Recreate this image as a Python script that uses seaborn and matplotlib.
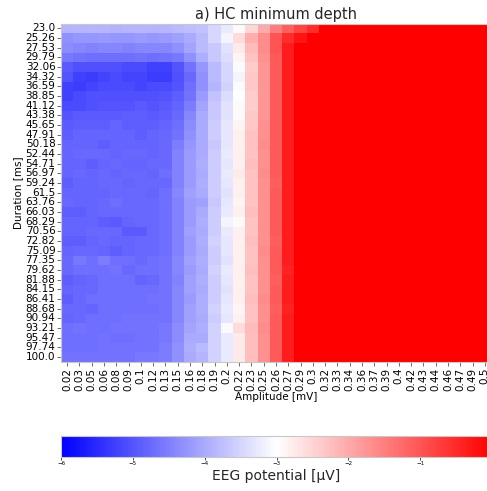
import numpy as np
import pandas as pd
import matplotlib
matplotlib.use("Agg")
import matplotlib.pyplot as plt
import seaborn as sns

durations = ["23.0", "25.26", "27.53", "29.79", "32.06", "34.32", "36.59", "38.85", "41.12",
             "43.38", "45.65", "47.91", "50.18", "52.44", "54.71", "56.97", "59.24", "61.5",
             "63.76", "66.03", "68.29", "70.56", "72.82", "75.09", "77.35", "79.62", "81.88",
             "84.15", "86.41", "88.68", "90.94", "93.21", "95.47", "97.74", "100.0"]
amplitudes = ["0.02", "0.03", "0.05", "0.06", "0.08", "0.09", "0.1", "0.12", "0.13", "0.15",
              "0.16", "0.18", "0.19", "0.2", "0.22", "0.23", "0.25", "0.26", "0.27", "0.29",
              "0.3", "0.32", "0.33", "0.34", "0.36", "0.37", "0.39", "0.4", "0.42", "0.43",
              "0.44", "0.46", "0.47", "0.49", "0.5"]

# EEG potential [uV]; rows = durations, columns = amplitudes (values >= 0 are saturated red)
eeg = [
 [-3.88,-3.88,-3.86,-3.88,-3.91,-3.88,-3.86,-3.88,-3.86,-3.82,-3.76,-3.71,-3.47,-3.24,-2.94,-2.53,-2.00,-1.47,-1.12,-0.82,-0.53, 0.1, 0.2, 0.3, 0.4, 0.5, 0.6, 0.7, 0.8, 0.9, 1.0, 1.1, 1.2, 1.3, 1.4],
 [-4.29,-4.24,-4.24,-4.21,-4.24,-4.24,-4.18,-4.24,-4.18,-4.12,-4.00,-3.82,-3.47,-3.12,-2.59,-2.06,-1.65,-1.00,-0.53,-0.24, 0.1, 0.2, 0.3, 0.4, 0.5, 0.6, 0.7, 0.8, 0.9, 1.0, 1.1, 1.2, 1.3, 1.4, 1.5],
 [-4.35,-4.41,-4.47,-4.41,-4.41,-4.47,-4.41,-4.41,-4.41,-4.29,-4.06,-3.82,-3.65,-3.35,-2.76,-2.18,-1.65,-1.00,-0.35, 0.1, 0.2, 0.3, 0.4, 0.5, 0.6, 0.7, 0.8, 0.9, 1.0, 1.1, 1.2, 1.3, 1.4, 1.5, 1.6],
 [-4.59,-4.65,-4.71,-4.71,-4.71,-4.71,-4.65,-4.71,-4.65,-4.59,-4.29,-3.94,-3.65,-3.41,-2.88,-2.29,-1.71,-1.06,-0.35, 0.1, 0.2, 0.3, 0.4, 0.5, 0.6, 0.7, 0.8, 0.9, 1.0, 1.1, 1.2, 1.3, 1.4, 1.5, 1.6],
 [-4.94,-5.06,-5.06,-5.06,-5.06,-5.12,-5.12,-5.24,-5.24,-5.00,-4.65,-4.24,-3.82,-3.47,-3.06,-2.41,-1.76,-1.06,-0.35, 0.1, 0.2, 0.3, 0.4, 0.5, 0.6, 0.7, 0.8, 0.9, 1.0, 1.1, 1.2, 1.3, 1.4, 1.5, 1.6],
 [-5.00,-5.24,-5.29,-5.18,-5.12,-5.18,-5.18,-5.29,-5.29,-5.06,-4.76,-4.29,-3.82,-3.47,-3.12,-2.35,-1.76,-1.06,-0.35, 0.1, 0.2, 0.3, 0.4, 0.5, 0.6, 0.7, 0.8, 0.9, 1.0, 1.1, 1.2, 1.3, 1.4, 1.5, 1.6],
 [-5.24,-5.29,-5.18,-5.12,-5.12,-5.12,-5.18,-5.12,-5.12,-5.00,-4.71,-4.29,-3.88,-3.53,-3.06,-2.35,-1.76,-1.06,-0.35, 0.1, 0.2, 0.3, 0.4, 0.5, 0.6, 0.7, 0.8, 0.9, 1.0, 1.1, 1.2, 1.3, 1.4, 1.5, 1.6],
 [-5.24,-5.12,-5.06,-5.06,-5.06,-5.06,-5.06,-5.06,-5.00,-4.88,-4.65,-4.18,-3.71,-3.41,-3.00,-2.41,-1.76,-1.06,-0.35, 0.1, 0.2, 0.3, 0.4, 0.5, 0.6, 0.7, 0.8, 0.9, 1.0, 1.1, 1.2, 1.3, 1.4, 1.5, 1.6],
 [-5.12,-5.12,-5.06,-5.00,-5.00,-5.00,-4.94,-5.00,-4.94,-4.82,-4.53,-4.06,-3.65,-3.35,-2.94,-2.41,-1.76,-1.06,-0.35, 0.1, 0.2, 0.3, 0.4, 0.5, 0.6, 0.7, 0.8, 0.9, 1.0, 1.1, 1.2, 1.3, 1.4, 1.5, 1.6],
 [-5.00,-4.94,-4.94,-4.94,-4.94,-4.88,-4.88,-4.94,-4.88,-4.76,-4.41,-4.00,-3.65,-3.35,-2.94,-2.35,-1.76,-1.06,-0.35, 0.1, 0.2, 0.3, 0.4, 0.5, 0.6, 0.7, 0.8, 0.9, 1.0, 1.1, 1.2, 1.3, 1.4, 1.5, 1.6],
 [-4.94,-4.88,-4.88,-4.88,-4.82,-4.88,-4.88,-4.88,-4.82,-4.71,-4.35,-4.00,-3.59,-3.29,-2.88,-2.35,-1.71,-1.06,-0.35, 0.1, 0.2, 0.3, 0.4, 0.5, 0.6, 0.7, 0.8, 0.9, 1.0, 1.1, 1.2, 1.3, 1.4, 1.5, 1.6],
 [-4.88,-4.82,-4.82,-4.82,-4.82,-4.82,-4.88,-4.82,-4.76,-4.65,-4.29,-4.00,-3.59,-3.29,-2.82,-2.29,-1.71,-1.06,-0.35, 0.1, 0.2, 0.3, 0.4, 0.5, 0.6, 0.7, 0.8, 0.9, 1.0, 1.1, 1.2, 1.3, 1.4, 1.5, 1.6],
 [-4.82,-4.82,-4.82,-4.88,-4.82,-4.82,-4.82,-4.82,-4.76,-4.53,-4.24,-4.00,-3.65,-3.29,-2.82,-2.29,-1.65,-1.06,-0.35, 0.1, 0.2, 0.3, 0.4, 0.5, 0.6, 0.7, 0.8, 0.9, 1.0, 1.1, 1.2, 1.3, 1.4, 1.5, 1.6],
 [-4.82,-4.76,-4.76,-4.76,-4.82,-4.76,-4.76,-4.82,-4.76,-4.47,-4.18,-4.00,-3.59,-3.24,-2.82,-2.29,-1.71,-1.06,-0.35, 0.1, 0.2, 0.3, 0.4, 0.5, 0.6, 0.7, 0.8, 0.9, 1.0, 1.1, 1.2, 1.3, 1.4, 1.5, 1.6],
 [-4.82,-4.82,-4.88,-4.82,-4.76,-4.82,-4.82,-4.76,-4.76,-4.47,-4.18,-3.94,-3.59,-3.29,-2.82,-2.24,-1.71,-1.06,-0.35, 0.1, 0.2, 0.3, 0.4, 0.5, 0.6, 0.7, 0.8, 0.9, 1.0, 1.1, 1.2, 1.3, 1.4, 1.5, 1.6],
 [-4.82,-4.76,-4.82,-4.76,-4.82,-4.76,-4.76,-4.82,-4.71,-4.47,-4.18,-4.00,-3.59,-3.24,-2.76,-2.29,-1.65,-1.06,-0.35, 0.1, 0.2, 0.3, 0.4, 0.5, 0.6, 0.7, 0.8, 0.9, 1.0, 1.1, 1.2, 1.3, 1.4, 1.5, 1.6],
 [-4.88,-4.82,-4.82,-4.76,-4.76,-4.82,-4.76,-4.76,-4.76,-4.47,-4.18,-3.94,-3.59,-3.29,-2.82,-2.29,-1.71,-1.12,-0.35, 0.1, 0.2, 0.3, 0.4, 0.5, 0.6, 0.7, 0.8, 0.9, 1.0, 1.1, 1.2, 1.3, 1.4, 1.5, 1.6],
 [-4.82,-4.82,-4.82,-4.82,-4.76,-4.76,-4.76,-4.82,-4.71,-4.41,-4.12,-4.00,-3.59,-3.35,-2.82,-2.29,-1.71,-1.06,-0.35, 0.1, 0.2, 0.3, 0.4, 0.5, 0.6, 0.7, 0.8, 0.9, 1.0, 1.1, 1.2, 1.3, 1.4, 1.5, 1.6],
 [-4.76,-4.82,-4.82,-4.76,-4.71,-4.76,-4.76,-4.76,-4.71,-4.47,-4.18,-4.12,-3.65,-3.29,-2.88,-2.29,-1.71,-1.06,-0.35, 0.1, 0.2, 0.3, 0.4, 0.5, 0.6, 0.7, 0.8, 0.9, 1.0, 1.1, 1.2, 1.3, 1.4, 1.5, 1.6],
 [-4.88,-4.88,-4.82,-4.76,-4.76,-4.76,-4.76,-4.76,-4.71,-4.47,-4.18,-4.00,-3.59,-3.24,-2.82,-2.24,-1.71,-1.06,-0.35, 0.1, 0.2, 0.3, 0.4, 0.5, 0.6, 0.7, 0.8, 0.9, 1.0, 1.1, 1.2, 1.3, 1.4, 1.5, 1.6],
 [-4.82,-4.82,-4.82,-4.88,-4.94,-4.82,-4.76,-4.76,-4.71,-4.47,-4.18,-3.94,-3.59,-3.12,-2.94,-2.29,-1.71,-1.06,-0.35, 0.1, 0.2, 0.3, 0.4, 0.5, 0.6, 0.7, 0.8, 0.9, 1.0, 1.1, 1.2, 1.3, 1.4, 1.5, 1.6],
 [-4.82,-4.82,-4.76,-4.76,-4.76,-4.94,-4.94,-4.76,-4.71,-4.47,-4.12,-4.00,-3.59,-3.24,-2.82,-2.29,-1.71,-1.06,-0.35, 0.1, 0.2, 0.3, 0.4, 0.5, 0.6, 0.7, 0.8, 0.9, 1.0, 1.1, 1.2, 1.3, 1.4, 1.5, 1.6],
 [-4.88,-4.88,-4.82,-4.76,-4.82,-4.82,-4.76,-4.76,-4.71,-4.47,-4.18,-3.94,-3.53,-3.29,-2.82,-2.24,-1.71,-1.12,-0.35, 0.1, 0.2, 0.3, 0.4, 0.5, 0.6, 0.7, 0.8, 0.9, 1.0, 1.1, 1.2, 1.3, 1.4, 1.5, 1.6],
 [-4.82,-4.76,-4.76,-4.82,-4.88,-4.82,-4.76,-4.76,-4.71,-4.47,-4.18,-4.00,-3.59,-3.29,-2.82,-2.29,-1.65,-1.06,-0.35, 0.1, 0.2, 0.3, 0.4, 0.5, 0.6, 0.7, 0.8, 0.9, 1.0, 1.1, 1.2, 1.3, 1.4, 1.5, 1.6],
 [-4.76,-4.59,-4.71,-4.53,-4.71,-4.71,-4.76,-4.71,-4.65,-4.41,-4.12,-3.94,-3.59,-3.35,-2.82,-2.29,-1.71,-1.06,-0.35, 0.1, 0.2, 0.3, 0.4, 0.5, 0.6, 0.7, 0.8, 0.9, 1.0, 1.1, 1.2, 1.3, 1.4, 1.5, 1.6],
 [-4.76,-4.71,-4.71,-4.71,-4.65,-4.76,-4.71,-4.71,-4.65,-4.41,-4.18,-4.00,-3.53,-3.24,-2.82,-2.24,-1.71,-1.06,-0.41, 0.1, 0.2, 0.3, 0.4, 0.5, 0.6, 0.7, 0.8, 0.9, 1.0, 1.1, 1.2, 1.3, 1.4, 1.5, 1.6],
 [-4.88,-4.82,-4.76,-4.71,-4.71,-4.71,-4.82,-4.76,-4.65,-4.47,-4.12,-3.94,-3.59,-3.29,-2.82,-2.29,-1.71,-1.12,-0.35, 0.1, 0.2, 0.3, 0.4, 0.5, 0.6, 0.7, 0.8, 0.9, 1.0, 1.1, 1.2, 1.3, 1.4, 1.5, 1.6],
 [-4.82,-4.76,-4.76,-4.71,-4.71,-4.71,-4.71,-4.71,-4.65,-4.41,-4.12,-4.00,-3.59,-3.35,-2.82,-2.29,-1.71,-1.06,-0.35, 0.1, 0.2, 0.3, 0.4, 0.5, 0.6, 0.7, 0.8, 0.9, 1.0, 1.1, 1.2, 1.3, 1.4, 1.5, 1.6],
 [-4.88,-4.76,-4.71,-4.71,-4.71,-4.71,-4.71,-4.65,-4.65,-4.41,-4.18,-3.94,-3.59,-3.29,-2.82,-2.24,-1.65,-1.06,-0.35, 0.1, 0.2, 0.3, 0.4, 0.5, 0.6, 0.7, 0.8, 0.9, 1.0, 1.1, 1.2, 1.3, 1.4, 1.5, 1.6],
 [-4.76,-4.76,-4.82,-4.71,-4.71,-4.71,-4.71,-4.71,-4.65,-4.41,-4.12,-3.94,-3.53,-3.24,-2.88,-2.29,-1.71,-1.12,-0.41, 0.1, 0.2, 0.3, 0.4, 0.5, 0.6, 0.7, 0.8, 0.9, 1.0, 1.1, 1.2, 1.3, 1.4, 1.5, 1.6],
 [-4.82,-4.76,-4.71,-4.71,-4.71,-4.65,-4.65,-4.65,-4.65,-4.41,-4.12,-4.00,-3.59,-3.29,-2.82,-2.29,-1.71,-1.06,-0.35, 0.1, 0.2, 0.3, 0.4, 0.5, 0.6, 0.7, 0.8, 0.9, 1.0, 1.1, 1.2, 1.3, 1.4, 1.5, 1.6],
 [-4.71,-4.65,-4.71,-4.71,-4.65,-4.65,-4.65,-4.65,-4.59,-4.35,-4.06,-3.94,-3.53,-3.06,-2.59,-2.18,-1.65,-1.06,-0.35, 0.1, 0.2, 0.3, 0.4, 0.5, 0.6, 0.7, 0.8, 0.9, 1.0, 1.1, 1.2, 1.3, 1.4, 1.5, 1.6],
 [-4.71,-4.71,-4.71,-4.65,-4.71,-4.71,-4.65,-4.65,-4.59,-4.35,-4.00,-4.00,-3.53,-3.24,-2.76,-2.24,-1.71,-1.06,-0.35, 0.1, 0.2, 0.3, 0.4, 0.5, 0.6, 0.7, 0.8, 0.9, 1.0, 1.1, 1.2, 1.3, 1.4, 1.5, 1.6],
 [-4.71,-4.71,-4.71,-4.65,-4.65,-4.65,-4.65,-4.65,-4.53,-4.29,-3.94,-3.82,-3.53,-3.24,-2.76,-2.24,-1.71,-1.06,-0.35, 0.1, 0.2, 0.3, 0.4, 0.5, 0.6, 0.7, 0.8, 0.9, 1.0, 1.1, 1.2, 1.3, 1.4, 1.5, 1.6],
 [-4.65,-4.65,-4.65,-4.65,-4.65,-4.65,-4.59,-4.59,-4.53,-4.29,-4.00,-3.88,-3.53,-3.24,-2.76,-2.24,-1.71,-1.06,-0.35, 0.1, 0.2, 0.3, 0.4, 0.5, 0.6, 0.7, 0.8, 0.9, 1.0, 1.1, 1.2, 1.3, 1.4, 1.5, 1.6],
]

df = pd.DataFrame(eeg, index=durations, columns=amplitudes)

W, H = 487, 491
fig = plt.figure(figsize=(W / 100, H / 100), dpi=100)
ax = fig.add_axes([61 / W, 1 - 362 / H, 430 / W, 338.5 / H])
cax = fig.add_axes([61 / W, 1 - 457 / H, 431 / W, 21 / H])

sns.heatmap(df, cmap="bwr", vmin=-6, vmax=0, ax=ax, cbar_ax=cax,
            cbar_kws={"orientation": "horizontal"},
            xticklabels=amplitudes, yticklabels=durations)

for s in ax.spines.values():
    s.set_visible(True)
    s.set_color("#c8c8c8")
    s.set_linewidth(0.8)

ax.set_title("a) HC minimum depth", fontsize=10.5, color="#262626", pad=3)
ax.set_xlabel("Amplitude [mV]", fontsize=7.5, labelpad=1)
ax.set_ylabel("Duration [ms]", fontsize=7.5, labelpad=2)
ax.tick_params(axis="both", labelsize=7.5, length=3, width=0.6, color="#555555", pad=1)
plt.setp(ax.get_xticklabels(), rotation=90)
plt.setp(ax.get_yticklabels(), rotation=0)

cax.tick_params(labelsize=4, length=2, width=0.5, pad=1)
cax.set_xticks([-6, -5, -4, -3, -2, -1])
cax.set_xlabel("EEG potential [μV]", fontsize=10, color="#262626", labelpad=2)
cb = ax.collections[0].colorbar
cb.outline.set_edgecolor("#c8c8c8")
cb.outline.set_linewidth(0.8)

fig.savefig("out.png", dpi=100)
